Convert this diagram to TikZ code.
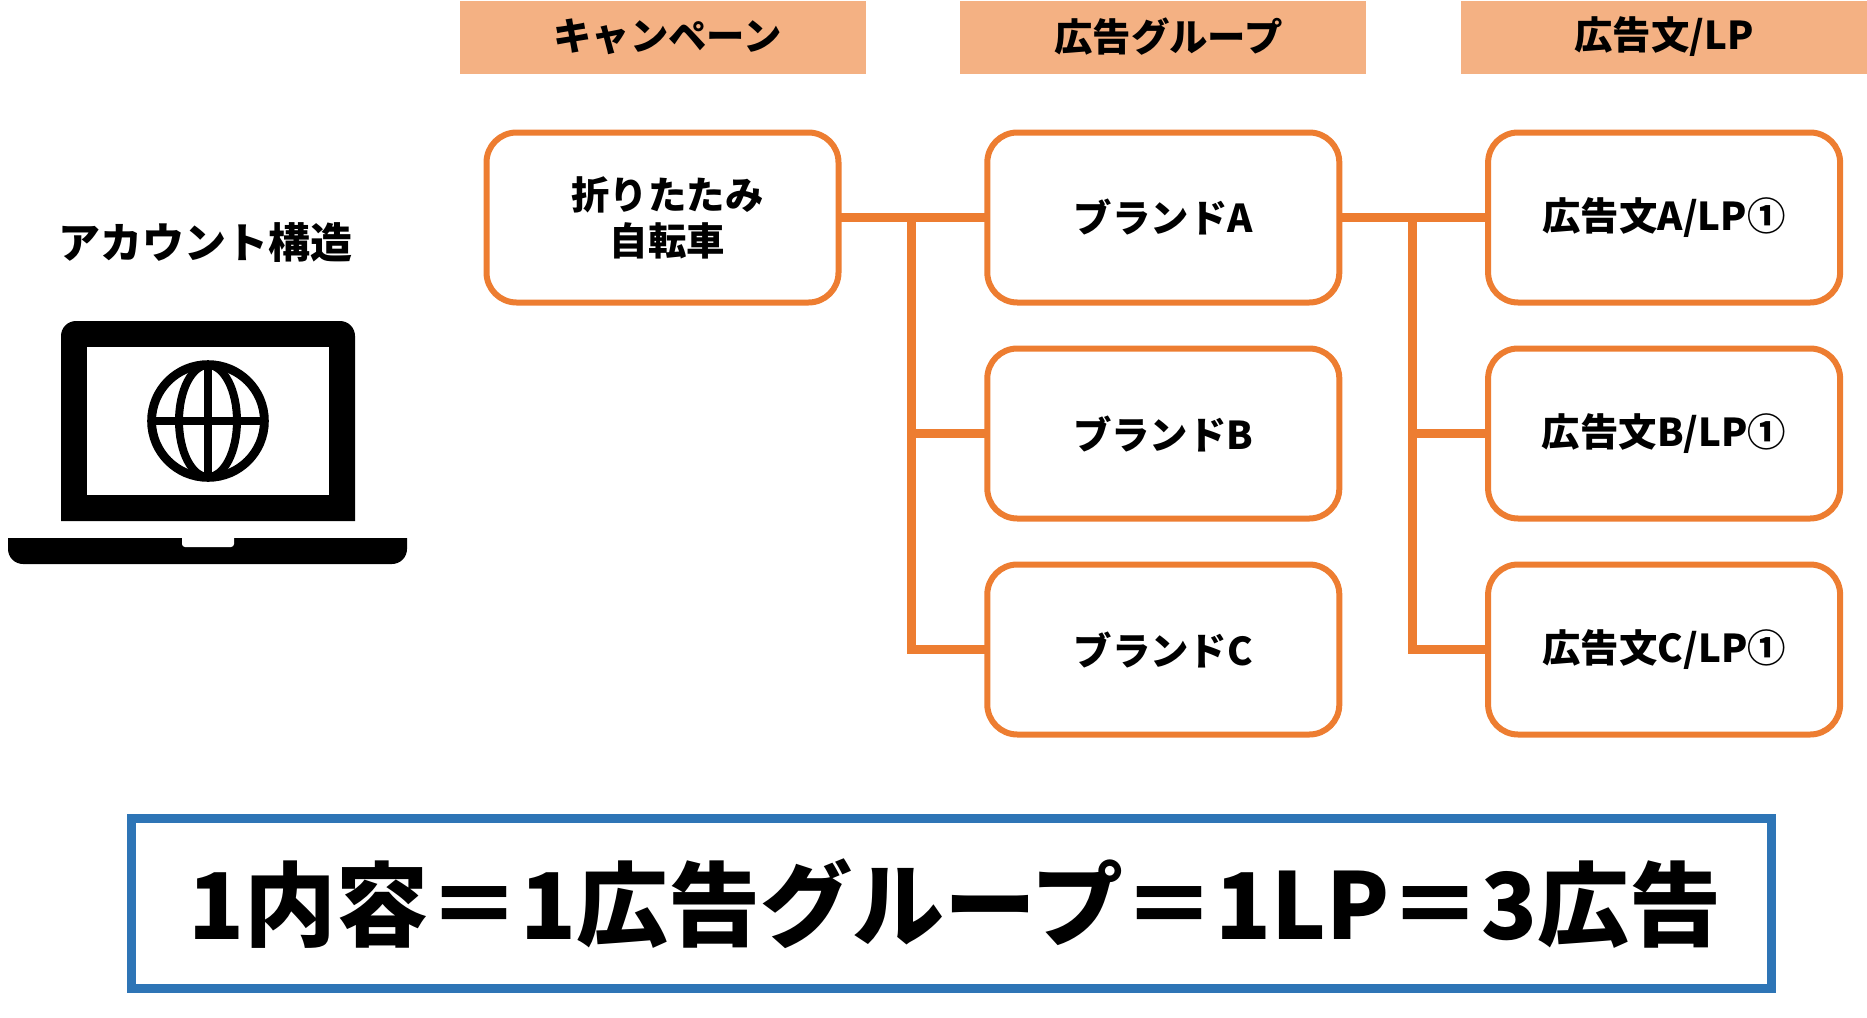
\documentclass[tikz,border=0pt]{standalone}
\usepackage{fontspec}
\setmainfont{Noto Sans CJK JP}
\usepackage{xcolor}
\usetikzlibrary{positioning}
\definecolor{accentorange}{HTML}{ED7D31}
\definecolor{headorange}{HTML}{F4B183}
\definecolor{noteblue}{HTML}{2E75B6}

\begin{document}
\begin{tikzpicture}[
  x=0.5pt, y=-0.5pt,
  node distance=23pt and 74.4pt,
  box/.style={draw=accentorange, line width=3pt, rounded corners=15pt, fill=white, align=center,
              font=\fontsize{19.2pt}{23pt}\selectfont\bfseries, minimum width=176pt, minimum height=85pt,
              inner sep=0pt, outer sep=0pt},
  head/.style={fill=headorange, align=center, font=\fontsize{19.2pt}{23pt}\selectfont\bfseries,
              minimum width=203pt, minimum height=36.5pt, inner sep=0pt, outer sep=0pt},
  note/.style={draw=noteblue, line width=4.5pt, align=center, font=\fontsize{46pt}{50pt}\selectfont\bfseries,
              minimum width=820pt, minimum height=85pt, inner sep=0pt, outer sep=0pt},
  conn/.style={draw=accentorange, line width=4.5pt}]
\useasboundingbox (0,0) rectangle (1867,1017);
\node[box] (camp) at (662.5,217.5) {\hspace*{5pt}折りたたみ\\\hspace*{5pt}自転車};
\node[box, right=of camp] (brandA) {ブランドA};
\node[box, below=of brandA] (brandB) {ブランドB};
\node[box, below=of brandB] (brandC) {ブランドC};
\node[box, right=of brandA] (adA) {広告文A/LP①};
\node[box, below=of adA] (adB) {広告文B/LP①};
\node[box, below=of adB] (adC) {広告文C/LP①};
\node[head, above=29.5pt of camp] (headCamp) {\hspace*{5pt}キャンペーン};
\node[head, above=29.5pt of brandA] (headGroup) {\hspace*{5pt}広告グループ};
\node[head, above=29.5pt of adA] (headAd) {広告文/LP};
\node[font=\fontsize{21pt}{24pt}\selectfont\bfseries] (account) at (205,243) {アカウント構造};
\node[note] (rule) at (951,903.5) {\hspace*{4pt}\raisebox{3.5pt}{1内容＝1広告グループ＝1LP＝3広告}};
\coordinate[right=36.5pt of camp.east] (trunkA);
\coordinate[right=36.5pt of brandA.east] (trunkB);
\draw[conn] (camp) -- (brandA);
\draw[conn] (trunkA) |- (brandB);
\draw[conn] (trunkA) |- (brandC);
\draw[conn] (brandA) -- (adA);
\draw[conn] (trunkB) |- (adB);
\draw[conn] (trunkB) |- (adC);
% laptop
\fill (61,521) -- (61,336) arc[start angle=180, end angle=90, radius=7.5pt] -- (340,321)
  arc[start angle=90, end angle=0, radius=7.5pt] -- (355,521) -- cycle;
\fill[white] (87,347) rectangle (329,495);
\fill (8,538) -- (407,538) -- (407,549) arc[start angle=0, end angle=90, radius=7.5pt, y radius=-7.5pt]
  -- (23,564) arc[start angle=90, end angle=180, radius=7.5pt, y radius=-7.5pt] -- cycle;
\fill[white, rounded corners=1.5pt] (182,530) rectangle (234,547);
\draw[line width=4.4pt] (208,421) circle[radius=28.2pt];
\draw[line width=4pt] (208,421) ellipse[x radius=14.5pt, y radius=28pt];
\draw[line width=4pt] (208,365) -- (208,477);
\draw[line width=4pt] (152,421) -- (264,421);
\end{tikzpicture}
\end{document}
